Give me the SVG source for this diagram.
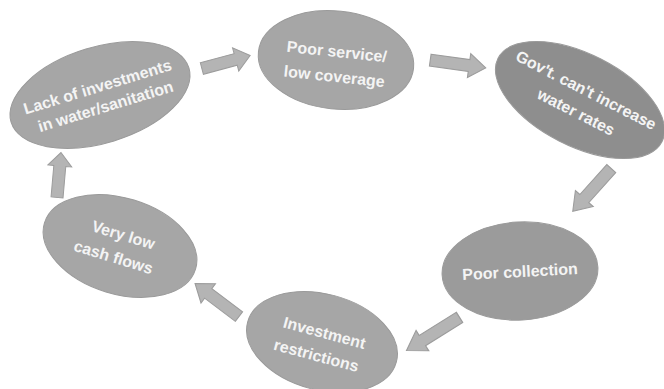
<svg xmlns="http://www.w3.org/2000/svg" xmlns:xlink="http://www.w3.org/1999/xlink" width="664" height="389" viewBox="0 0 664 389">
<style>
.node{fill:#a6a6a6;stroke:#9a9a9a;stroke-width:1}
.dark{fill:#8e8e8e}
.mid{fill:#9b9b9b}
.lbl{font-family:"Liberation Sans",Arial,sans-serif;font-weight:bold;font-size:16px;fill:#f4f4f4;text-anchor:middle}
.arr{fill:#b4b4b4;stroke:#9c9c9c;stroke-width:1}
</style>
<defs>
<path id="arrow" d="M-25,-6 L10,-6 L10,-12 L25,0 L10,12 L10,6 L-25,6 Z"/>
</defs>
<rect width="664" height="389" fill="#ffffff"/>
<g id="connectors">
<use xlink:href="#arrow" class="arr" transform="translate(226,62) rotate(-15)"/>
<use xlink:href="#arrow" class="arr" transform="translate(458,64) rotate(8) scale(1.12,1)"/>
<use xlink:href="#arrow" class="arr" transform="translate(592,190) rotate(132) scale(1.15,1)"/>
<use xlink:href="#arrow" class="arr" transform="translate(433,334) rotate(148) scale(1.25,1)"/>
<use xlink:href="#arrow" class="arr" transform="translate(217,300) rotate(-143) scale(1.1,1)"/>
<use xlink:href="#arrow" class="arr" transform="translate(59,175) rotate(-85) scale(0.9,1)"/>
</g>
<g id="n1" transform="translate(100,95) rotate(-17)">
<ellipse class="node" rx="93" ry="48"/>
<text class="lbl" x="0" y="-3">Lack of investments</text>
<text class="lbl" x="2" y="18">in water/sanitation</text>
</g>
<g id="n2" transform="translate(336,60) rotate(6)">
<ellipse class="node" rx="78" ry="49"/>
<text class="lbl" x="0" y="-3">Poor service/</text>
<text class="lbl" x="0" y="22">low coverage</text>
</g>
<g id="n3" transform="translate(580,100) rotate(27)">
<ellipse class="node dark" rx="92" ry="46"/>
<text class="lbl" x="1" y="-6">Gov't. can't increase</text>
<text class="lbl" x="2" y="18">water rates</text>
</g>
<g id="n4" transform="translate(520,271) rotate(-3)">
<ellipse class="node mid" rx="78" ry="49"/>
<text class="lbl" x="0" y="6">Poor collection</text>
</g>
<g id="n5" transform="translate(322,342) rotate(15)">
<ellipse class="node" rx="77" ry="48"/>
<text class="lbl" x="0" y="-4">Investment</text>
<text class="lbl" x="-2" y="20">restrictions</text>
</g>
<g id="n6" transform="translate(120,246) rotate(17)">
<ellipse class="node" rx="79" ry="48"/>
<text class="lbl" x="0" y="-6">Very low</text>
<text class="lbl" x="-3" y="18">cash flows</text>
</g>
</svg>
